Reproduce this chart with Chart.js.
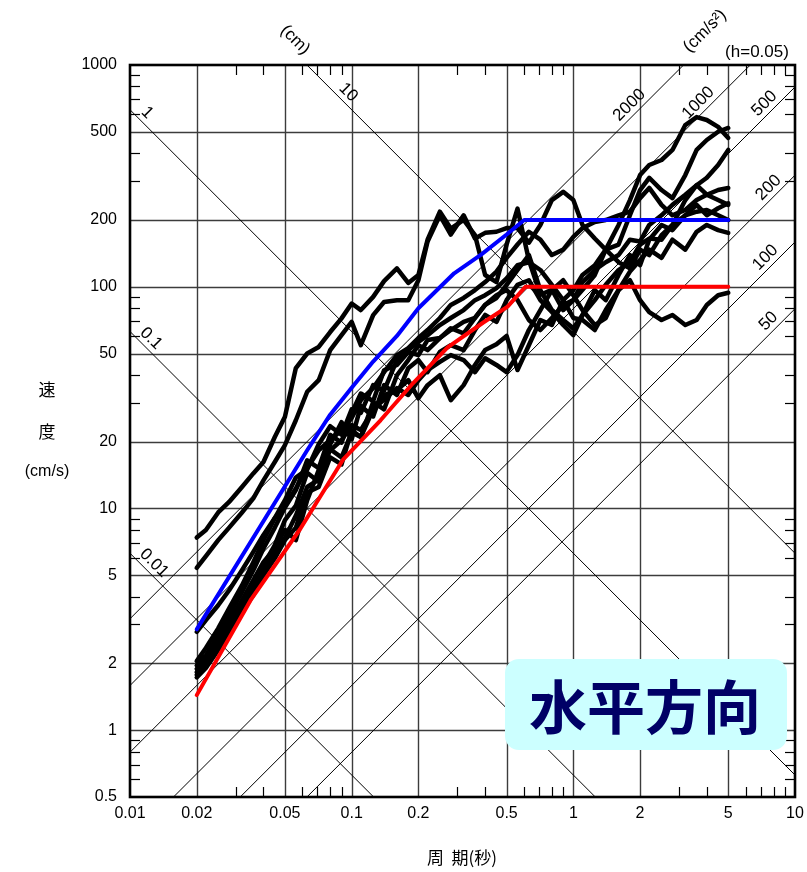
<!DOCTYPE html>
<html>
<head>
<meta charset="utf-8">
<script src="https://cdn.jsdelivr.net/npm/chart.js@4.4.1/dist/chart.umd.min.js"></script>
<style>
  html, body { margin: 0; padding: 0; background: #ffffff; }
  canvas { display: block; }
</style>
</head>
<body>
<canvas id="spec" width="807" height="872"></canvas>
<script>
// Pseudo-velocity response spectra (h = 0.05), horizontal component.
// Periods (s) at which each record's spectrum is sampled.
const periods = [0.02,0.022,0.025,0.028,0.032,0.036,0.04,0.045,0.05,0.056,0.063,0.071,0.08,0.09,0.1,0.11,0.125,0.14,0.16,0.18,0.2,0.22,0.25,0.28,0.32,0.36,0.4,0.45,0.5,0.56,0.63,0.71,0.8,0.9,1.0,1.1,1.25,1.4,1.6,1.8,2.0,2.2,2.5,2.8,3.2,3.6,4.0,4.5,5.0];

// Velocity response (cm/s) of the observed records
const rec1 = [7.4,8.0,9.6,10.7,12.5,14.4,16.2,21,25.9,43,50,53.5,62.5,72,84,78.5,90,106,121,104,113,163,218,183,200,171,113,105,155,225,132,92,97,78.5,87,97,113,147,190,246,319,354,373,414,536,582,565,526,469];
const rec2 = [5.4,6.1,7.2,8.2,9.6,11.1,13.4,16.2,19.3,25,33.6,37.9,51.8,60.5,69.4,54.5,74.5,85.3,87,87,107,160,210,172,210,165,175,177,184,184,158,190,246,268,246,190,165,147,155,210,273,310,273,251,319,414,459,500,520];
const rec3 = [2.78,3.14,3.66,4.28,5.27,6.37,7.6,9.05,10.3,12.3,15.2,18.3,20.3,22.6,25.6,30.8,34.9,41.2,49.2,52.9,58.7,63.8,72.3,82.8,89,96.6,105,117,135,155,177,163,139,147,168,184,196,200,210,218,251,279,234,210,222,246,260,273,279];
const rec4 = [2.05,2.35,2.88,3.55,4.5,5.73,7.2,9.05,10.9,13.8,15,19.5,23.5,21.5,28,27,36,34,46.7,51.8,56.3,60.5,67.2,72.3,78.5,87,91.6,98.6,109,125,129,119,102,87,96.6,113,125,147,129,121,147,139,171,190,246,287,310,354,414];
const rec5 = [1.96,2.18,2.68,3.3,4.2,5.27,6.6,8.2,10.1,12.1,16.5,15.2,21.5,19.8,27,33,30.5,42,44.4,50.8,49.2,57.5,58.7,63.8,69.4,72.3,82.8,89,102,119,139,96.6,78.5,70.8,65,74.6,87,102,119,129,155,165,163,190,210,234,210,226,238];
const rec6 = [1.89,2.07,2.55,3.08,3.86,4.75,5.73,6.6,8.0,7.2,10.9,14.9,18.3,20.3,23.8,22.6,27.8,32.5,34.2,37.9,31.4,36,39.9,30.8,36,44.4,51.8,55,60,42.1,54.5,70.8,67.2,87,72.3,70.8,63.8,78.5,96.6,117,132,147,135,163,147,177,190,180,175];
const rec7 = [1.83,2.03,2.43,2.99,3.75,4.6,5.56,6.84,8.87,10.3,14.5,13.2,19.5,24.5,20.5,29,26,36,32.5,42.9,46.7,41.2,50.8,54.5,51.8,63.8,74.6,69.4,87,102,107,87,76.9,67.2,60.5,74.6,96.6,87,113,139,125,163,190,180,210,218,222,210,200];
const rec8 = [1.78,1.99,2.41,2.88,3.55,4.28,5.16,6.37,7.35,9.3,12.5,13.5,18.5,17,22,21,28,31,34.9,32.5,37.9,42.1,45.8,49.2,46.7,41.2,47.6,44.4,41.2,49.2,63.8,78.5,96.6,107,91.6,78.5,67.2,72.3,96.6,107,87,76.9,70.8,74.6,67.2,70.8,82.8,91.6,94];
const rec9 = [1.73,1.91,2.3,2.78,3.41,4.07,5.0,5.96,7.2,8.2,11.8,12.5,17,15.8,22.5,21,30.2,28,39.9,46.7,54.5,51.8,58.7,65,61.6,72.3,82.8,91.6,96.6,87,70.8,63.8,72.3,82.8,87,105,119,129,139,163,160,190,210,234,260,287,260,246,234];

// Design spectra (cm/s)
const designHighT  = [0.02,0.063,0.08,0.1,0.125,0.16,0.2,0.29,0.385,0.5,0.6,5.0];
const designHighSv = [2.85,18.3,26.5,35,46,60,80,115,140,172,200,200];
const designLowT   = [0.02,0.035,0.0585,0.0914,0.135,0.189,0.271,0.391,0.505,0.608,5.0];
const designLowSv  = [1.44,3.86,8.06,16.6,25.0,36.7,53.3,68.8,81.3,100,100];

// Axis ticks
const xTicks = [0.01,0.02,0.05,0.1,0.2,0.5,1,2,5,10];
const xTickLabels = ['0.01','0.02','0.05','0.1','0.2','0.5','1','2','5','10'];
const yTicks = [0.5,1,2,5,10,20,50,100,200,500,1000];
const yTickLabels = ['0.5','1','2','5','10','20','50','100','200','500','1000'];

// Constant displacement (cm) and acceleration (cm/s²) guide lines
const dispLines = [0.01,0.1,1,10];
const dispLabels = ['0.01','0.1','1','10'];
const accLines = [50,100,200,500,1000,2000];
const accLabels = ['50','100','200','500','1000','2000'];

const FONT = '"Liberation Sans", Arial, sans-serif';
const CJK = '"Noto Sans CJK JP", "Noto Sans CJK SC", sans-serif';
const TWO_PI = 2 * Math.PI;

function pts(ts, vs) { return ts.map((t, i) => ({ x: t, y: vs[i] })); }

const records = [rec1, rec2, rec3, rec4, rec5, rec6, rec7, rec8, rec9];

const datasets = [
  { label: 'design-high', data: pts(designHighT, designHighSv), borderColor: '#0000ff', borderWidth: 4 },
  { label: 'design-low', data: pts(designLowT, designLowSv), borderColor: '#ff0000', borderWidth: 4 }
].concat(records.map((r, i) => ({ label: 'rec' + (i + 1), data: pts(periods, r), borderColor: '#000000', borderWidth: 4.5 })));

datasets.forEach(d => {
  d.showLine = true; d.pointRadius = 0; d.pointHoverRadius = 0; d.fill = false;
  d.tension = 0; d.borderJoinStyle = 'round'; d.borderCapStyle = 'round';
});

function seg(ctx, x0, y0, x1, y1) { ctx.beginPath(); ctx.moveTo(x0, y0); ctx.lineTo(x1, y1); ctx.stroke(); }
function rotText(ctx, s, cx, cy, ang) { ctx.save(); ctx.translate(cx, cy); ctx.rotate(ang); ctx.fillText(s, 0, 0); ctx.restore(); }

const tripartite = {
  id: 'tripartite',
  beforeDatasetsDraw(chart) {
    const { ctx, chartArea: a, scales: { x, y } } = chart;
    ctx.save();
    ctx.beginPath(); ctx.rect(a.left, a.top, a.right - a.left, a.bottom - a.top); ctx.clip();
    // main grid
    ctx.strokeStyle = '#3c3c3c'; ctx.lineWidth = 1.4;
    xTicks.slice(1, -1).forEach(v => { const px = Math.round(x.getPixelForValue(v)) + 0.5; seg(ctx, px, a.top, px, a.bottom); });
    yTicks.slice(1, -1).forEach(v => { const py = Math.round(y.getPixelForValue(v)) + 0.5; seg(ctx, a.left, py, a.right, py); });
    // diagonal guide lines
    ctx.strokeStyle = '#000'; ctx.lineWidth = 1;
    const t0 = 0.005, t1 = 20;
    dispLines.forEach(d => seg(ctx, x.getPixelForValue(t0), y.getPixelForValue(TWO_PI * d / t0), x.getPixelForValue(t1), y.getPixelForValue(TWO_PI * d / t1)));
    accLines.forEach(s => seg(ctx, x.getPixelForValue(t0), y.getPixelForValue(s * t0 / TWO_PI), x.getPixelForValue(t1), y.getPixelForValue(s * t1 / TWO_PI)));
    ctx.restore();
  },
  afterDatasetsDraw(chart) {
    const { ctx, chartArea: a, scales: { x, y } } = chart;
    ctx.save();
    // minor ticks
    ctx.strokeStyle = '#000'; ctx.lineWidth = 1.2;
    const tl = 10;
    [0.01, 0.1, 1].forEach(dec => [3, 4, 6, 7, 8, 9].forEach(m => {
      const px = Math.round(x.getPixelForValue(m * dec)) + 0.5;
      seg(ctx, px, a.bottom, px, a.bottom - tl); seg(ctx, px, a.top, px, a.top + tl);
    }));
    [0.1, 1, 10, 100].forEach(dec => [3, 4, 6, 7, 8, 9].forEach(m => {
      const v = m * dec; if (v < 0.5) return;
      const py = Math.round(y.getPixelForValue(v)) + 0.5;
      seg(ctx, a.left, py, a.left + tl, py); seg(ctx, a.right, py, a.right - tl, py);
    }));
    // frame
    ctx.lineWidth = 2.6; ctx.strokeStyle = '#000';
    ctx.strokeRect(a.left, a.top, a.right - a.left, a.bottom - a.top);

    // tick labels
    ctx.fillStyle = '#000'; ctx.font = '16px ' + FONT;
    ctx.textAlign = 'center'; ctx.textBaseline = 'middle';
    xTicks.forEach((v, i) => ctx.fillText(xTickLabels[i], x.getPixelForValue(v), a.bottom + 17));
    ctx.textAlign = 'right';
    yTicks.forEach((v, i) => ctx.fillText(yTickLabels[i], a.left - 13, y.getPixelForValue(v)));

    // guide line labels
    ctx.textAlign = 'center'; ctx.font = '17px ' + FONT;
    const off = 7;
    const dispAt = [0.01193, 0.01157, 0.0111, 0.0898];
    dispLines.forEach((d, i) => {
      const t = dispAt[i];
      rotText(ctx, dispLabels[i], x.getPixelForValue(t) + off, y.getPixelForValue(TWO_PI * d / t) - off, Math.PI / 4);
    });
    const accAt = [8.17, 7.91, 8.17, 7.83, 3.94, 1.925];
    accLines.forEach((s, i) => {
      const t = accAt[i];
      rotText(ctx, accLabels[i], x.getPixelForValue(t) - off, y.getPixelForValue(s * t / TWO_PI) - off, -Math.PI / 4);
    });

    // unit labels
    rotText(ctx, '(cm)', 295, 40, Math.PI / 4);
    rotText(ctx, '(cm/s²)', 705, 31, -Math.PI / 4);
    ctx.font = '17px ' + FONT;
    ctx.fillText('(h=0.05)', 757, 52);

    // axis titles
    ctx.font = '17px ' + CJK;
    ctx.fillText('速', 47, 390);
    ctx.fillText('度', 47, 432);
    ctx.font = '16px ' + FONT;
    ctx.fillText('(cm/s)', 47, 472);
    ctx.font = '17px ' + CJK;
    ctx.fillText('周  期(秒)', 462, 858);

    // component tag
    ctx.fillStyle = '#ccffff';
    ctx.beginPath(); ctx.roundRect(505, 659, 282, 91, 14); ctx.fill();
    ctx.fillStyle = '#000066';
    ctx.font = 'bold 58px ' + CJK;
    ctx.fillText('水平方向', 645, 707);
    ctx.restore();
  }
};

new Chart(document.getElementById('spec'), {
  type: 'scatter',
  data: { datasets },
  options: {
    responsive: false,
    animation: false,
    devicePixelRatio: 1,
    layout: { padding: { left: 130, right: 12, top: 65, bottom: 75 } },
    plugins: { legend: { display: false }, tooltip: { enabled: false } },
    scales: {
      x: { type: 'logarithmic', min: 0.01, max: 10, display: false },
      y: { type: 'logarithmic', min: 0.5, max: 1000, display: false }
    }
  },
  plugins: [tripartite]
});
</script>
</body>
</html>
